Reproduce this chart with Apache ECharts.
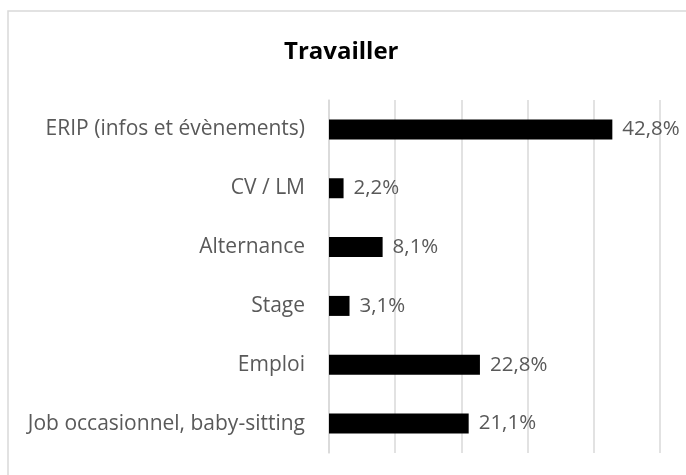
<!DOCTYPE html>
<html>
<head>
<meta charset="utf-8">
<script src="https://cdn.jsdelivr.net/npm/echarts@6/dist/echarts.min.js"></script>
<style>
  html, body { margin: 0; padding: 0; background: #fff; }
  #chart { width: 686px; height: 475px; }
</style>
</head>
<body>
<div id="chart"></div>
<script>
const categories = [
  'ERIP (infos et évènements)',
  'CV / LM',
  'Alternance',
  'Stage',
  'Emploi',
  'Job occasionnel, baby-sitting'
];
const values = [42.8, 2.2, 8.1, 3.1, 22.8, 21.1];

const chart = echarts.init(document.getElementById('chart'));

const option = {
  animation: false,
  textStyle: { fontFamily: 'Open Sans' },
  graphic: [{
    type: 'rect',
    shape: { x: 8, y: 11, width: 700, height: 500 },
    style: { fill: 'none', stroke: '#d9d9d9', lineWidth: 1.5 },
    silent: true
  }],
  title: {
    text: 'Travailler',
    left: 279,
    top: 35,
    textStyle: { fontSize: 24, fontWeight: 'bold', color: '#000', fontFamily: 'Open Sans' }
  },
  grid: {
    left: 329,
    right: 26,
    top: 100,
    bottom: 22,
    containLabel: false
  },
  xAxis: {
    type: 'value',
    min: 0,
    max: 50,
    interval: 10,
    axisLine: { show: false },
    axisTick: { show: false },
    axisLabel: { show: false },
    splitLine: { lineStyle: { color: '#d9d9d9', width: 1.5 } }
  },
  yAxis: {
    type: 'category',
    inverse: true,
    data: categories,
    axisLine: { lineStyle: { color: '#d9d9d9', width: 1.5 } },
    axisTick: { length: 7, lineStyle: { color: '#d9d9d9', width: 1.5 } },
    axisLabel: { color: '#595959', fontSize: 21, margin: 24, fontFamily: 'Open Sans' }
  },
  series: [{
    type: 'bar',
    data: values,
    barWidth: 20,
    itemStyle: { color: '#000' },
    label: {
      show: true,
      position: 'right',
      distance: 10,
      color: '#595959',
      fontSize: 20.5,
      fontFamily: 'Open Sans',
      formatter: p => p.value.toFixed(1).replace('.', ',') + '%'
    }
  }]
};

chart.setOption(option);
</script>
</body>
</html>
